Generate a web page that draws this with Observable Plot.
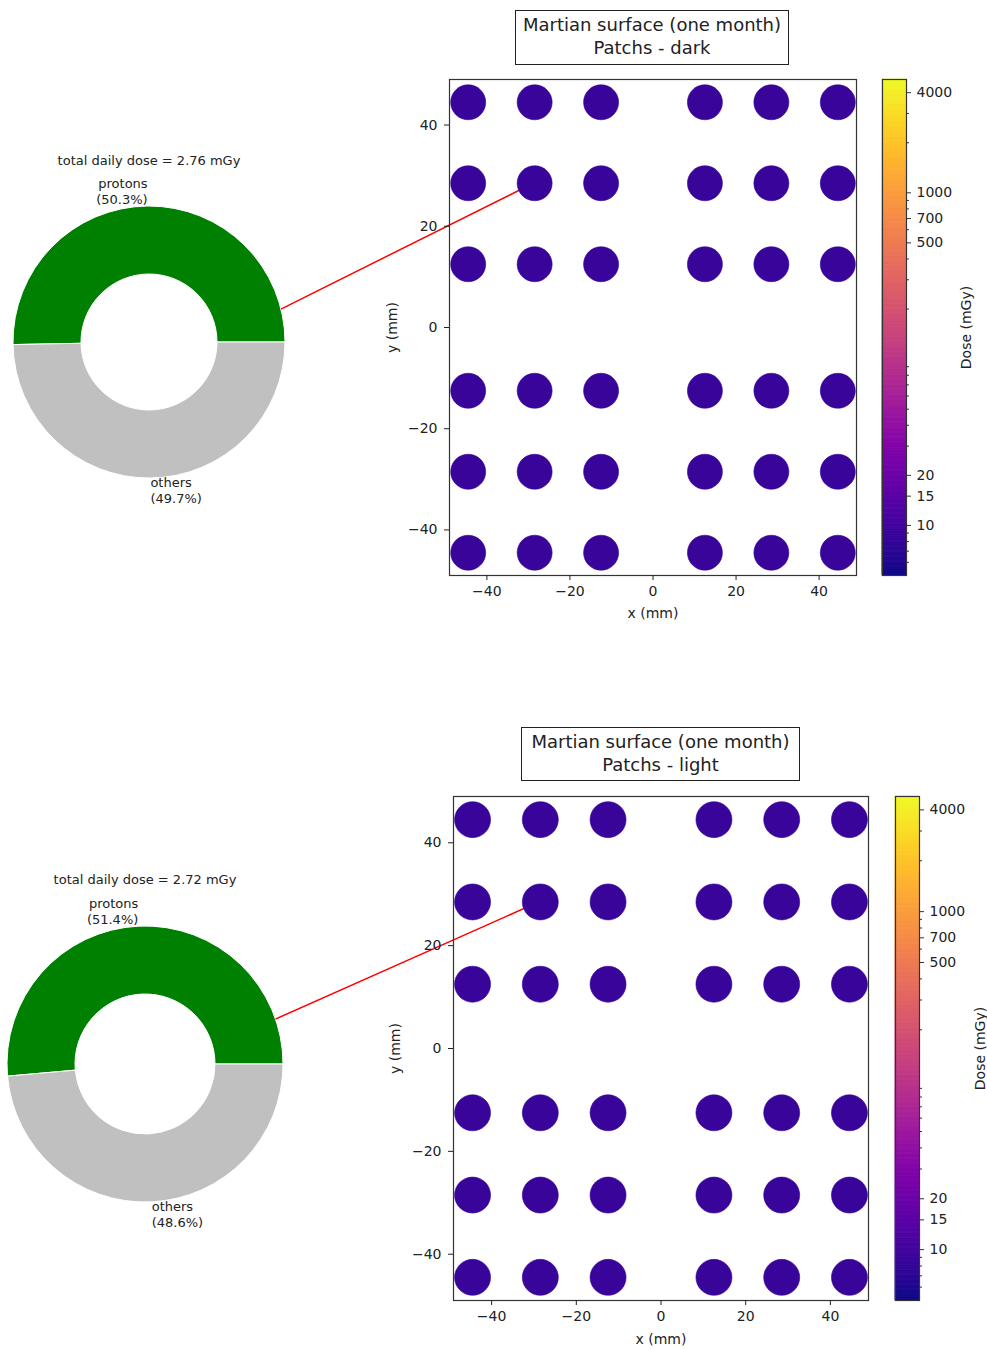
<!DOCTYPE html>
<html><head><meta charset="utf-8">
<script src="https://cdn.jsdelivr.net/npm/d3@7"></script>
<script src="https://cdn.jsdelivr.net/npm/@observablehq/plot@0.6"></script>
<style>
body{margin:0;background:#fff;}
#fig{position:relative;width:987px;height:1349px;overflow:hidden;background:#fff;font-family:"DejaVu Sans",sans-serif;color:#222;}
#fig svg{position:absolute;overflow:visible;}
.tbox{position:absolute;border:1.3px solid #222;text-align:center;font-size:18px;line-height:23px;box-sizing:border-box;padding-top:2px;background:#fff;}
</style></head><body><div id="fig"></div>
<script>
// ---------- data ----------
const titleLine1 = ["Martian surface (one month)", "Martian surface (one month)"];
const titleLine2 = ["Patchs - dark", "Patchs - light"];
const totalDose = [2.76, 2.72];
const pieLabels = ["protons", "others"];
const protonShare = [50.3, 51.4];
const otherShare = [49.7, 48.6];
const pieColors = ["#008000", "#c0c0c0"];
const patchX = [-44.5, -28.5, -12.5, 12.5, 28.5, 44.5];
const patchY = [44.5, 28.5, 12.5, -12.5, -28.5, -44.5];
const doseDark = [
  8.7, 8.7, 8.7, 8.7, 8.7, 8.7,
  8.7, 8.7, 8.7, 8.7, 8.7, 8.7,
  8.7, 8.7, 8.7, 8.7, 8.7, 8.7,
  8.7, 8.7, 8.7, 8.7, 8.7, 8.7,
  8.7, 8.7, 8.7, 8.7, 8.7, 8.7,
  8.7, 8.7, 8.7, 8.7, 8.7, 8.7
];
const doseLight = [
  8.7, 8.7, 8.7, 8.7, 8.7, 8.7,
  8.7, 8.7, 8.7, 8.7, 8.7, 8.7,
  8.7, 8.7, 8.7, 8.7, 8.7, 8.7,
  8.7, 8.7, 8.7, 8.7, 8.7, 8.7,
  8.7, 8.7, 8.7, 8.7, 8.7, 8.7,
  8.7, 8.7, 8.7, 8.7, 8.7, 8.7
];
const linkedPatchX = [-28.5, -28.5];
const linkedPatchY = [28.5, 28.5];
const linkAngleDeg = [14, 19];
const axisTicks = [-40, -20, 0, 20, 40];
const cbarLabeled = [10, 15, 20, 500, 700, 1000, 4000];
const cbarMinor = [6, 7, 8, 9, 30, 40, 50, 60, 70, 80, 90, 200, 300, 400, 600, 800, 900, 2000, 3000];
const doseDomain = [5, 4800];
const xyDomain = [-49, 49];

// ---------- layout ----------
const panels = [
  {top: 0, w: 870, h: 640, fl: 449, fr: 856, ft: 79, fb: 575, r: 17.5,
   pie: {cx: 149, cy: 342, r: 136, ir: 68},
   box: {x: 515, y: 10, w: 274, h: 55},
   cb: {left: 870, x0: 882, x1: 906, w: 117}, xlab: 42, ylab: -57, cblab: 60, dose: doseDark},
  {top: 700, w: 880, h: 649, fl: 453, fr: 868, ft: 796, fb: 1300, r: 18,
   pie: {cx: 145, cy: 1064, r: 138, ir: 70},
   box: {x: 521, y: 727, w: 279, h: 54},
   cb: {left: 880, x0: 895, x1: 919, w: 107}, xlab: 43, ylab: -58, cblab: 61, dose: doseLight}
];

const fig = document.getElementById("fig");
const baseStyle = {fontFamily: "DejaVu Sans, sans-serif", fontSize: "14px", color: "#222", background: "transparent", overflow: "visible"};

panels.forEach((p, i) => {
  const pts = [];
  patchY.forEach((yy, r) => patchX.forEach((xx, c) => pts.push({x: xx, y: yy, dose: p.dose[r * 6 + c]})));
  const pie = {cx: p.pie.cx, cy: p.pie.cy - p.top, r: p.pie.r, ir: p.pie.ir};

  const pieMark = () => {
    const g = d3.create("svg:g").attr("transform", `translate(${pie.cx},${pie.cy})`);
    const shares = [protonShare[i], otherShare[i]];
    const arcs = d3.pie().sort(null).startAngle(Math.PI / 2).endAngle(Math.PI / 2 - 2 * Math.PI)(shares);
    const arc = d3.arc().innerRadius(pie.ir).outerRadius(pie.r);
    g.selectAll("path").data(arcs).join("path")
      .attr("d", arc).attr("fill", (d, j) => pieColors[j]).attr("stroke", "#fff").attr("stroke-width", 1);
    const total = d3.sum(shares);
    let cum = 0;
    shares.forEach((s, j) => {
      const mid = (cum + s / 2) / total * 2 * Math.PI; cum += s;
      const lx = 1.1 * pie.r * Math.cos(mid), ly = -1.1 * pie.r * Math.sin(mid);
      const t = g.append("text").attr("font-size", 13).attr("fill", "#222")
        .attr("text-anchor", lx > 0 ? "start" : "end");
      t.append("tspan").attr("x", lx).attr("y", ly - 8).attr("dominant-baseline", "middle").text(pieLabels[j]);
      t.append("tspan").attr("x", lx).attr("y", ly + 8).attr("dominant-baseline", "middle").text(`(${s.toFixed(1)}%)`);
    });
    g.append("text").attr("x", 0).attr("y", -1.33 * pie.r).attr("text-anchor", "middle")
      .attr("dominant-baseline", "middle").attr("font-size", 13).attr("fill", "#222")
      .text(`total daily dose = ${totalDose[i].toFixed(2)} mGy`);
    return g.node();
  };

  const linkMark = (index, scales) => {
    const a = linkAngleDeg[i] * Math.PI / 180;
    return d3.create("svg:line")
      .attr("x1", pie.cx + pie.r * Math.cos(a)).attr("y1", pie.cy - pie.r * Math.sin(a))
      .attr("x2", scales.x(linkedPatchX[i])).attr("y2", scales.y(linkedPatchY[i]))
      .attr("stroke", "red").attr("stroke-width", 1.5).node();
  };

  const plot = Plot.plot({
    width: p.w, height: p.h,
    marginLeft: p.fl, marginRight: p.w - p.fr, marginTop: p.ft - p.top, marginBottom: p.top + p.h - p.fb,
    x: {domain: xyDomain, label: null},
    y: {domain: xyDomain, label: null},
    color: {type: "log", scheme: "plasma", domain: doseDomain},
    style: baseStyle,
    marks: [
      pieMark,
      linkMark,
      Plot.dot(pts, {x: "x", y: "y", r: p.r, fill: "dose", stroke: "dose", strokeWidth: 0.6}),
      Plot.frame({stroke: "#333", strokeWidth: 1.2}),
      Plot.axisX({ticks: axisTicks, tickSize: 5, tickPadding: 6, label: null}),
      Plot.axisY({ticks: axisTicks, tickSize: 5, tickPadding: 7, label: null}),
      Plot.text(["x (mm)"], {frameAnchor: "bottom", textAnchor: "middle", dy: p.xlab, text: d => d, fontSize: 14, fill: "#222"}),
      Plot.text(["y (mm)"], {frameAnchor: "left", textAnchor: "middle", dx: p.ylab, rotate: -90, text: d => d, fontSize: 14, fill: "#222"})
    ]
  });
  plot.style.left = "0px"; plot.style.top = p.top + "px";
  fig.appendChild(plot);

  // colorbar
  const n = 300, k = doseDomain[1] / doseDomain[0];
  const ramp = d3.range(n).map(j => ({lo: doseDomain[0] * Math.pow(k, j / n), hi: doseDomain[0] * Math.pow(k, (j + 1) / n)}));
  const cbML = p.cb.x0 - p.cb.left;
  const cbWidth = p.cb.x1 - p.cb.x0;
  const cbar = Plot.plot({
    width: p.cb.w, height: p.h,
    marginLeft: cbML, marginRight: p.cb.w - (p.cb.x1 - p.cb.left), marginTop: p.ft - p.top, marginBottom: p.top + p.h - p.fb,
    x: {domain: [0, 1], axis: null},
    y: {type: "log", domain: doseDomain, label: null, axis: null},
    color: {type: "log", scheme: "plasma", domain: doseDomain},
    style: baseStyle,
    marks: [
      Plot.rect(ramp, {x1: 0, x2: 1, y1: "lo", y2: "hi", fill: d => Math.sqrt(d.lo * d.hi), stroke: d => Math.sqrt(d.lo * d.hi), strokeWidth: 0.8}),
      Plot.frame({stroke: "#333", strokeWidth: 1.2}),
      Plot.ruleY(cbarMinor, {y: d => d, x1: 1, x2: 1 + 3 / cbWidth, stroke: "#333", strokeWidth: 1, clip: false}),
      Plot.ruleY(cbarLabeled, {y: d => d, x1: 1, x2: 1 + 5 / cbWidth, stroke: "#333", strokeWidth: 1, clip: false}),
      Plot.text(cbarLabeled, {y: d => d, x: 1, dx: 10, textAnchor: "start", text: d => String(d), fontSize: 14, fill: "#222", clip: false}),
      Plot.text(["Dose (mGy)"], {frameAnchor: "right", textAnchor: "middle", dx: p.cblab, rotate: -90, text: d => d, fontSize: 14, fill: "#222"})
    ]
  });
  cbar.style.left = p.cb.left + "px"; cbar.style.top = p.top + "px";
  fig.appendChild(cbar);

  // title box
  const box = document.createElement("div");
  box.className = "tbox";
  Object.assign(box.style, {left: p.box.x + "px", top: p.box.y + "px", width: p.box.w + "px", height: p.box.h + "px"});
  const l1 = document.createElement("div"); l1.textContent = titleLine1[i];
  const l2 = document.createElement("div"); l2.textContent = titleLine2[i];
  box.appendChild(l1); box.appendChild(l2);
  fig.appendChild(box);
});
</script></body></html>
